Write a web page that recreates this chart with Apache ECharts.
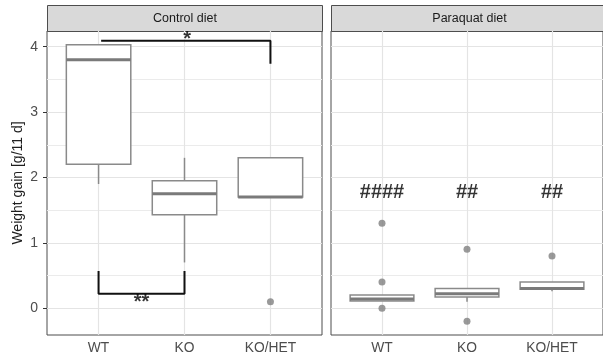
<!DOCTYPE html>
<html>
<head>
<meta charset="utf-8">
<script src="https://cdn.jsdelivr.net/npm/echarts@6/dist/echarts.min.js"></script>
<style>
  html, body { margin: 0; padding: 0; background: #fff; }
  #chart { width: 603px; height: 356px; }
</style>
</head>
<body>
<div id="chart"></div>
<script>
// Group labels and panel titles
const categories = ['WT', 'KO', 'KO/HET'];
const panelTitles = ['Control diet', 'Paraquat diet'];

// Box summaries per genotype: [lower whisker, Q1, median, Q3, upper whisker]
const controlStats = [
  [1.90, 2.20, 3.80, 4.03, 4.03],
  [0.70, 1.43, 1.75, 1.95, 2.30],
  [1.70, 1.70, 1.70, 2.30, 2.30]
];
const paraquatStats = [
  [0.11, 0.11, 0.14, 0.20, 0.20],
  [0.10, 0.17, 0.22, 0.30, 0.30],
  [0.26, 0.29, 0.30, 0.40, 0.40]
];

// Outlying animals per genotype
const controlOutliers = [[], [], [0.10]];
const paraquatOutliers = [[1.30, 0.40, 0.00], [0.90, -0.20], [0.80]];

// Significance annotations
const controlBracketTop = [[1.03, 4.09], [3.0, 4.09], [3.0, 3.74]];
const controlBracketBottom = [[1.0, 0.57], [1.0, 0.22], [2.0, 0.22], [2.0, 0.57]];
const controlStars = [{ x: 2.03, y: 4.11, text: '*' }, { x: 1.5, y: 0.08, text: '**' }];
const paraquatMarks = ['####', '##', '##'];
const paraquatMarkLevel = 1.77;

// Axis breaks
const yMajor = [0, 1, 2, 3, 4];
const yMinor = [0.5, 1.5, 2.5, 3.5];
const xBreaks = [1, 2, 3];

const FONT = 'Liberation Sans, Arial, Helvetica, sans-serif';
const Y_MIN = -0.41, Y_MAX = 4.24;
const X_MIN = 0.4, X_MAX = 3.6;

const chart = echarts.init(document.getElementById('chart'), null, { renderer: 'canvas' });

function boxData(stats) {
  return stats.map((s, i) => [i + 1].concat(s));
}
function outlierData(list) {
  const out = [];
  list.forEach((vals, i) => vals.forEach(v => out.push([i + 1, v])));
  return out;
}

// Tukey-style box: whiskers without caps, white box, heavier median bar
function renderBox(params, api) {
  const x = api.value(0);
  const lo = api.coord([x, api.value(1)]);
  const q1 = api.coord([x, api.value(2)]);
  const med = api.coord([x, api.value(3)]);
  const q3 = api.coord([x, api.value(4)]);
  const hi = api.coord([x, api.value(5)]);
  const half = api.size([0.75, 0])[0] / 2;
  const cx = q1[0];
  const stroke = { stroke: '#8a8a8a', lineWidth: 1.5, fill: null };
  return {
    type: 'group',
    children: [
      { type: 'line', shape: { x1: cx, y1: q3[1], x2: cx, y2: hi[1] }, style: stroke },
      { type: 'line', shape: { x1: cx, y1: q1[1], x2: cx, y2: lo[1] }, style: stroke },
      { type: 'rect', shape: { x: cx - half, y: q3[1], width: half * 2, height: q1[1] - q3[1] },
        style: { fill: '#ffffff', stroke: '#8a8a8a', lineWidth: 1.5 } },
      { type: 'line', shape: { x1: cx - half, y1: med[1], x2: cx + half, y2: med[1] },
        style: { stroke: '#7a7a7a', lineWidth: 3 } }
    ]
  };
}

// Panel grid lines, kept underneath every mark
function gridSeries(idx) {
  return {
    type: 'line', xAxisIndex: idx, yAxisIndex: idx, data: [], z: 1, silent: true,
    markLine: {
      z: 1, silent: true, symbol: 'none', animation: false,
      label: { show: false },
      lineStyle: { color: '#ebebeb', width: 1, type: 'solid' },
      emphasis: { disabled: true },
      data: yMinor.map(v => ({ yAxis: v }))
        .concat(yMajor.map(v => ({ yAxis: v, lineStyle: { color: '#e4e4e4', width: 1.2 } })))
        .concat(xBreaks.map(v => ({ xAxis: v, lineStyle: { color: '#e4e4e4', width: 1.2 } })))
    }
  };
}

const grids = [
  { left: 47, top: 31, width: 275, height: 304 },
  { left: 331, top: 31, width: 276, height: 304 }
];

function xAxis(idx) {
  return {
    type: 'value', gridIndex: idx, min: X_MIN, max: X_MAX,
    axisLine: { show: false },
    splitLine: { show: false },
    axisTick: { show: true, customValues: xBreaks, length: 4, lineStyle: { color: '#333', width: 1 } },
    axisLabel: {
      show: true, customValues: xBreaks, margin: 6,
      formatter: v => categories[Math.round(v) - 1] || '',
      color: '#4d4d4d', fontSize: 13.8, fontFamily: FONT
    }
  };
}

function yAxis(idx) {
  const a = {
    type: 'value', gridIndex: idx, min: Y_MIN, max: Y_MAX,
    axisLine: { show: false },
    splitLine: { show: false },
    axisTick: { show: idx === 0, customValues: yMajor, length: 4, lineStyle: { color: '#333', width: 1 } },
    axisLabel: {
      show: idx === 0, customValues: yMajor, margin: 9,
      formatter: v => String(Math.round(v)),
      color: '#4d4d4d', fontSize: 14, fontFamily: FONT
    }
  };
  if (idx === 0) {
    a.name = 'Weight gain [g/11 d]';
    a.nameLocation = 'middle';
    a.nameRotate = 90;
    a.nameGap = 22;
    a.nameTextStyle = { color: '#1f1f1f', fontSize: 14, fontFamily: FONT };
  }
  return a;
}

const textSeries = (idx, data, size, weight) => ({
  type: 'scatter', xAxisIndex: idx, yAxisIndex: idx, z: 6, silent: true,
  symbolSize: 0,
  data: data.map(d => ({ value: [d.x, d.y], label: { formatter: d.text } })),
  label: {
    show: true, position: 'inside', color: '#000', fontSize: size,
    fontWeight: weight, fontFamily: FONT
  }
});

const option = {
  animation: false,
  backgroundColor: '#ffffff',
  grid: grids.map(g => Object.assign({ show: true, borderColor: '#4d4d4d', borderWidth: 1, backgroundColor: '#fff' }, g)),
  xAxis: [xAxis(0), xAxis(1)],
  yAxis: [yAxis(0), yAxis(1)],
  graphic: grids.map((g, i) => ({
    type: 'group', left: g.left, top: 5,
    children: [
      { type: 'rect', shape: { x: 0, y: 0, width: g.width, height: 26 },
        style: { fill: '#d9d9d9', stroke: '#4d4d4d', lineWidth: 1 } },
      { type: 'text', x: g.width / 2, y: 13,
        style: { text: panelTitles[i], fill: '#1a1a1a', fontSize: 12.5, fontFamily: FONT,
                 align: 'center', verticalAlign: 'middle' } }
    ]
  })),
  series: [
    gridSeries(0),
    gridSeries(1),
    {
      type: 'custom', xAxisIndex: 0, yAxisIndex: 0, z: 3, silent: true,
      renderItem: renderBox, encode: { x: 0, y: [1, 2, 3, 4, 5] },
      data: boxData(controlStats)
    },
    {
      type: 'custom', xAxisIndex: 1, yAxisIndex: 1, z: 3, silent: true,
      renderItem: renderBox, encode: { x: 0, y: [1, 2, 3, 4, 5] },
      data: boxData(paraquatStats)
    },
    {
      type: 'scatter', xAxisIndex: 0, yAxisIndex: 0, z: 4, silent: true,
      symbolSize: 7, itemStyle: { color: '#7f7f7f' },
      data: outlierData(controlOutliers)
    },
    {
      type: 'scatter', xAxisIndex: 1, yAxisIndex: 1, z: 4, silent: true,
      symbolSize: 7, itemStyle: { color: '#7f7f7f' },
      data: outlierData(paraquatOutliers)
    },
    {
      type: 'line', xAxisIndex: 0, yAxisIndex: 0, z: 5, silent: true,
      symbol: 'none', lineStyle: { color: '#111', width: 2 },
      data: controlBracketTop
    },
    {
      type: 'line', xAxisIndex: 0, yAxisIndex: 0, z: 5, silent: true,
      symbol: 'none', lineStyle: { color: '#111', width: 2 },
      data: controlBracketBottom
    },
    textSeries(0, controlStars, 20, 'bold'),
    textSeries(1, paraquatMarks.map((t, i) => ({ x: i + 1, y: paraquatMarkLevel, text: t })), 20, 'bold')
  ]
};

chart.setOption(option);
</script>
</body>
</html>
